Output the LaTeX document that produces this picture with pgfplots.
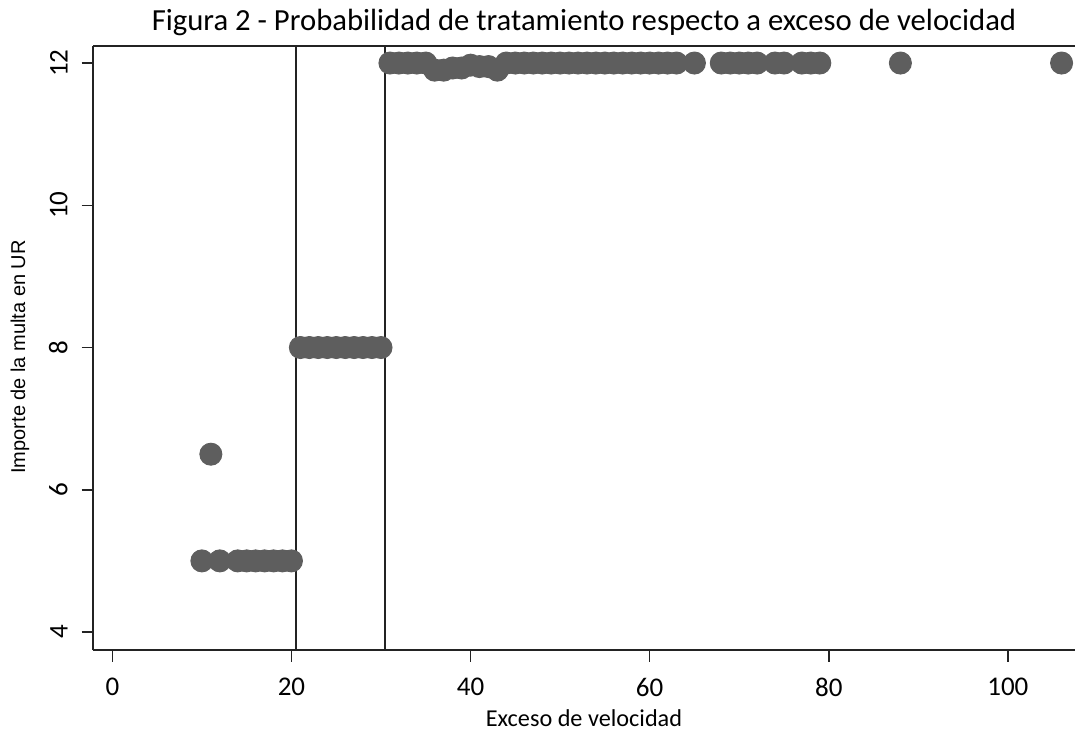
\documentclass[border=0pt]{standalone}
\usepackage{fontspec}
\setmainfont{Carlito}
\newfontfamily\arialfont{Liberation Sans}
\usepackage{pgfplots}
\pgfplotsset{compat=1.18}
\usetikzlibrary{calc}
\definecolor{pt}{RGB}{94,94,94}
\definecolor{ax}{RGB}{35,35,35}
\begin{document}
\begin{tikzpicture}
\begin{axis}[
  scale only axis, width=392.8pt, height=241.7pt,
  xmin=-2.16, xmax=107.5, ymin=3.747, ymax=12.243,
  axis x line*=bottom, axis y line*=left,
  axis line style={ax, line width=0.9pt, -},
  xtick={0,20,...,100}, ytick={4,6,...,12},
  tick align=outside, major tick length=4.6pt,
  tick style={ax, line width=0.6pt},
  /pgf/number format/assume math mode=true,
  ticklabel style={font=\fontsize{10.8}{12}\selectfont},
  xticklabel style={yshift=-3pt},
  yticklabel style={rotate=90, anchor=south, yshift=2pt},
  xlabel={Exceso de velocidad},
  ylabel={Importe de la multa en UR},
  xlabel style={at={(axis description cs:0.5,0)}, anchor=center, yshift=-27.2pt, font=\fontsize{9.7}{11}\selectfont},
  ylabel style={at={(axis description cs:0,0.485)}, anchor=center, yshift=29.2pt, font=\arialfont\fontsize{8}{10}\selectfont},
  title={Figura 2 - Probabilidad de tratamiento respecto a exceso de velocidad},
  title style={at={(axis description cs:0.5,1)}, anchor=center, yshift=3.5pt, font=\fontsize{12.27}{14}\selectfont},
  clip=false,
]
\addplot[ax, line width=0.8pt] coordinates {(20.5,3.747) (20.5,12.243)};
\addplot[ax, line width=0.8pt] coordinates {(30.5,3.747) (30.5,12.243)};
\addplot[only marks, mark=*, mark size=4.4pt, color=pt, mark options={draw=pt, fill=pt}] coordinates {
(10,5) (12,5) (14,5) (15,5) (16,5) (17,5) (18,5) (19,5) (20,5)
(11,6.5)
(21,8) (22,8) (23,8) (24,8) (25,8) (26,8) (27,8) (28,8) (29,8) (30,8)
(31,12) (32,12) (33,12) (34,12) (35,12)
(36,11.9) (37,11.9) (38,11.93) (39,11.93) (40,11.97) (41,11.95) (42,11.95) (43,11.9)
(44,12) (45,12) (46,12) (47,12) (48,12) (49,12) (50,12) (51,12) (52,12) (53,12)
(54,12) (55,12) (56,12) (57,12) (58,12) (59,12) (60,12) (61,12) (62,12) (63,12)
(65,12) (68,12) (69,12) (70,12) (71,12) (72,12) (74,12) (75,12) (77,12) (78,12) (79,12)
(88,12) (106,12)
};
\draw[ax, line width=0.9pt] (rel axis cs:0,1) -- (rel axis cs:1,1);
\end{axis}
\pgfresetboundingbox
\path[use as bounding box] ($(current axis.south west)+(-37.2pt,-31.6pt)$) rectangle ($(current axis.north east)+(0,18.3pt)$);
\end{tikzpicture}
\end{document}
